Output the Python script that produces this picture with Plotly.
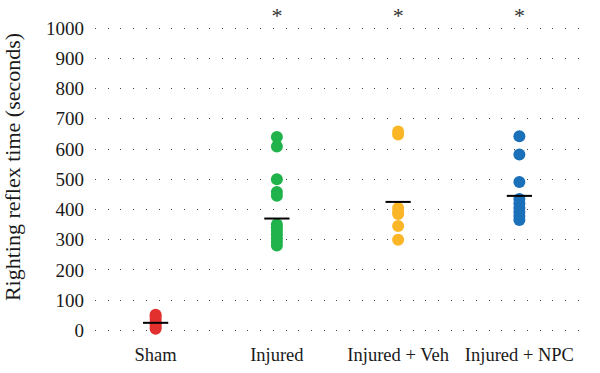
import plotly.graph_objects as go

categories = ["Sham", "Injured", "Injured + Veh", "Injured + NPC"]
sham = [5, 12, 20, 28, 38, 46, 52]
injured = [640, 608, 500, 458, 445, 350, 340, 330, 318, 305, 292, 281]
injured_veh = [658, 648, 405, 392, 385, 345, 300]
injured_npc = [642, 582, 491, 435, 420, 405, 392, 378, 365]
group_values = [sham, injured, injured_veh, injured_npc]
means = [25, 370, 425, 445]
significant = ["", "*", "*", "*"]
colors = ["#e2302f", "#20b24b", "#fbb627", "#1b70ba"]
y_ticks = list(range(0, 1001, 100))

font_family = "'Liberation Serif', 'DejaVu Serif', serif"

fig = go.Figure()
for cat, vals, col in zip(categories, group_values, colors):
    fig.add_trace(go.Scatter(
        x=[cat] * len(vals), y=vals, mode="markers",
        marker=dict(color=col, size=12, line=dict(width=0)),
        cliponaxis=False, showlegend=False, hoverinfo="y"))

fig.add_trace(go.Scatter(
    x=categories, y=means, mode="markers",
    marker=dict(symbol="line-ew", size=18, line=dict(color="black", width=2)),
    cliponaxis=False, showlegend=False, hoverinfo="y"))

fig.add_trace(go.Scatter(
    x=categories, y=[1036] * len(categories), mode="text",
    text=significant, textfont=dict(family=font_family, size=22, color="#333"),
    textposition="middle center", cliponaxis=False,
    showlegend=False, hoverinfo="skip"))

fig.update_layout(
    width=600, height=373,
    margin=dict(l=95, r=20, t=0, b=39, autoexpand=False),
    plot_bgcolor="white", paper_bgcolor="white",
    font=dict(family=font_family, size=18, color="#1a1a1a"),
    xaxis=dict(
        type="category", range=[-0.5, 3.5], automargin=False,
        showgrid=False, zeroline=False, showline=False,
        ticks="", tickfont=dict(family=font_family, size=18.5), ticklabelstandoff=7),
    yaxis=dict(
        range=[-12, 1093], tickvals=y_ticks, automargin=False,
        showgrid=True, gridcolor="#444", gridwidth=1, griddash="1px,11.7px",
        zeroline=False, showline=False, ticks="",
        ticklabelstandoff=10, tickfont=dict(family=font_family, size=19),
        title=dict(text="Righting reflex time (seconds)",
                   font=dict(family=font_family, size=22), standoff=22)),
)

fig.write_html("out.html", config={"displayModeBar": False},
               post_script="document.body.style.margin='0';document.body.style.padding='0';")
